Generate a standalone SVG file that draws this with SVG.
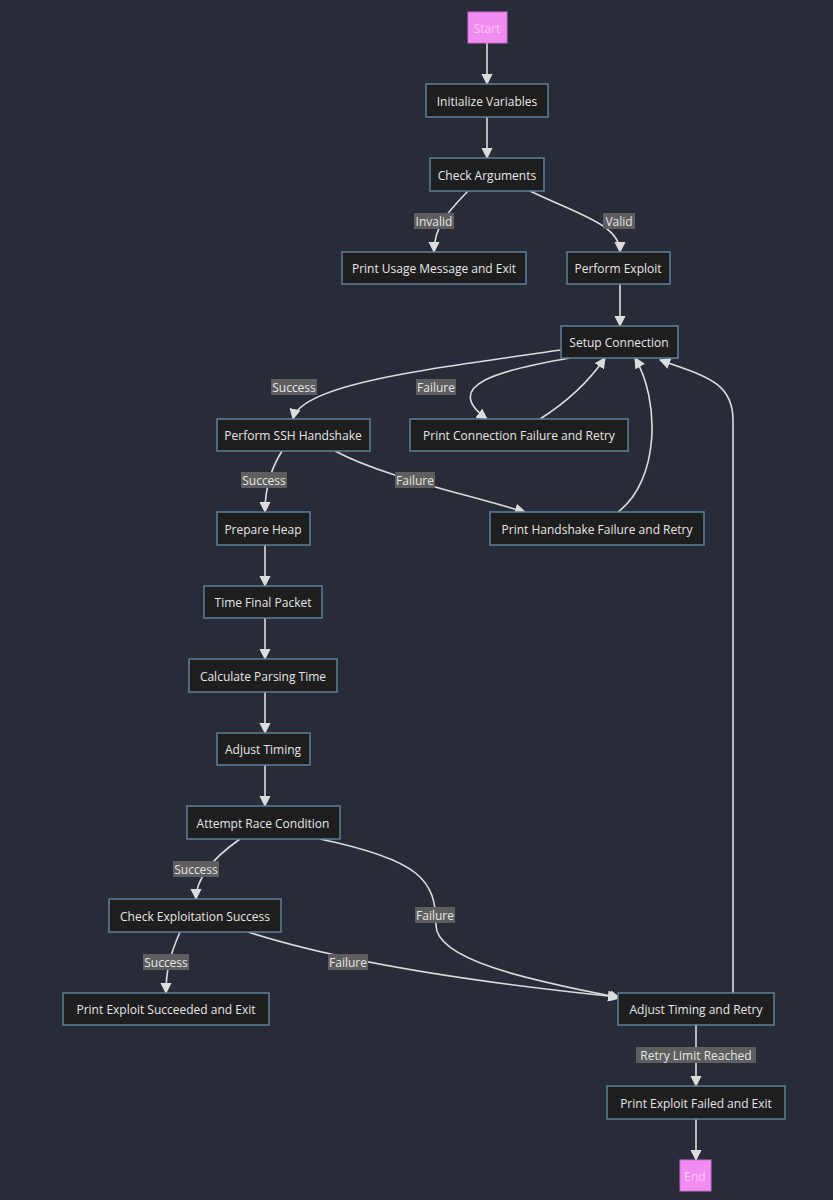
<svg xmlns="http://www.w3.org/2000/svg" width="833" height="1200" viewBox="0 0 833 1200">
<defs>
<marker id="ah" viewBox="0 0 10 10" refX="9" refY="5" markerWidth="7" markerHeight="7" orient="auto"><path d="M0,0 L10,5 L0,10 z" fill="#dcdcdc"/></marker>
<style>
.n rect{fill:#1e1e1e;stroke:#5c7f99;stroke-width:1.5}
.n text,.t text{font-family:"Open Sans","DejaVu Sans",sans-serif;font-size:12px;fill:#e6e6e6;text-anchor:middle;dominant-baseline:central}
.p rect{fill:#f38cf1;stroke:#c86fd0;stroke-width:1}
.p text{font-family:"Open Sans",sans-serif;font-size:12px;fill:#f7c8f5;text-anchor:middle;dominant-baseline:central}
#edges path{fill:none;stroke:#dcdcdc;stroke-width:1.6;marker-end:url(#ah)}
.t rect{fill:#5e5e5e}
</style>
</defs>
<rect width="833" height="1200" fill="#282c38"/>
<g id="edges">
<path d="M487,43 V84"/>
<path d="M487,117 V158"/>
<path d="M468,191 C450,210 434,225 434,252"/>
<path d="M530,191 C580,215 620,225 620,252"/>
<path d="M620,284 V326"/>
<path d="M561,350 C420,370 300,385 293,419"/>
<path d="M570,358 C500,370 440,385 487,419"/>
<path d="M540,419 C570,400 590,380 605,358"/>
<path d="M282,451 C270,470 265,490 265,512"/>
<path d="M335,451 C380,475 450,490 525,512"/>
<path d="M618,512 C660,480 660,400 635,358"/>
<path d="M265,545 V586"/>
<path d="M265,618 V659"/>
<path d="M265,692 V733"/>
<path d="M265,765 V806"/>
<path d="M240,839 C210,860 196,880 196,899"/>
<path d="M320,839 C420,860 436,880 436,925 C436,965 560,985 620,998"/>
<path d="M180,932 C170,955 166,970 166,993"/>
<path d="M248,932 C350,965 500,985 618,997"/>
<path d="M733,993 C733,900 733,800 733,420 C733,380 700,375 660,360"/>
<path d="M696,1025 V1086"/>
<path d="M696,1119 V1160"/>
</g>
<g class="t">
<rect x="414" y="213" width="40" height="16"/><text x="434" y="221">Invalid</text>
<rect x="603" y="213" width="32" height="16"/><text x="619" y="221">Valid</text>
<rect x="271" y="379" width="46" height="16"/><text x="294" y="387">Success</text>
<rect x="416" y="379" width="40" height="16"/><text x="436" y="387">Failure</text>
<rect x="241" y="472" width="46" height="16"/><text x="264" y="480">Success</text>
<rect x="395" y="472" width="40" height="16"/><text x="415" y="480">Failure</text>
<rect x="173" y="861" width="46" height="16"/><text x="196" y="869">Success</text>
<rect x="415" y="907" width="40" height="16"/><text x="435" y="915">Failure</text>
<rect x="143" y="954" width="46" height="16"/><text x="166" y="962">Success</text>
<rect x="328" y="954" width="40" height="16"/><text x="348" y="962">Failure</text>
<rect x="636" y="1047" width="120" height="16"/><text x="696" y="1055">Retry Limit Reached</text>
</g>
<g id="start" class="p"><rect x="468" y="12" width="39" height="31"/><text x="487" y="28">Start</text></g>
<g id="init" class="n"><rect x="426" y="84" width="122" height="33"/><text x="487" y="101">Initialize Variables</text></g>
<g id="check" class="n"><rect x="430" y="158" width="114" height="33"/><text x="487" y="175">Check Arguments</text></g>
<g id="usage" class="n"><rect x="342" y="252" width="184" height="32"/><text x="434" y="268">Print Usage Message and Exit</text></g>
<g id="exploit" class="n"><rect x="567" y="252" width="103" height="32"/><text x="618" y="268">Perform Exploit</text></g>
<g id="setup" class="n"><rect x="561" y="326" width="117" height="32"/><text x="619" y="342">Setup Connection</text></g>
<g id="ssh" class="n"><rect x="217" y="419" width="153" height="32"/><text x="293" y="435">Perform SSH Handshake</text></g>
<g id="connfail" class="n"><rect x="410" y="419" width="218" height="32"/><text x="519" y="435">Print Connection Failure and Retry</text></g>
<g id="heap" class="n"><rect x="217" y="512" width="93" height="33"/><text x="263" y="529">Prepare Heap</text></g>
<g id="hsfail" class="n"><rect x="490" y="512" width="214" height="33"/><text x="597" y="529">Print Handshake Failure and Retry</text></g>
<g id="time" class="n"><rect x="204" y="586" width="118" height="32"/><text x="263" y="602">Time Final Packet</text></g>
<g id="calc" class="n"><rect x="189" y="659" width="148" height="33"/><text x="263" y="676">Calculate Parsing Time</text></g>
<g id="adjust" class="n"><rect x="217" y="733" width="93" height="32"/><text x="263" y="749">Adjust Timing</text></g>
<g id="race" class="n"><rect x="187" y="806" width="153" height="33"/><text x="263" y="823">Attempt Race Condition</text></g>
<g id="checkexp" class="n"><rect x="109" y="899" width="172" height="33"/><text x="195" y="916">Check Exploitation Success</text></g>
<g id="succ" class="n"><rect x="63" y="993" width="206" height="32"/><text x="166" y="1009">Print Exploit Succeeded and Exit</text></g>
<g id="retry" class="n"><rect x="618" y="993" width="156" height="32"/><text x="696" y="1009">Adjust Timing and Retry</text></g>
<g id="failed" class="n"><rect x="607" y="1086" width="178" height="33"/><text x="696" y="1103">Print Exploit Failed and Exit</text></g>
<g id="end" class="p"><rect x="680" y="1160" width="31" height="31"/><text x="695" y="1176">End</text></g>
</svg>
